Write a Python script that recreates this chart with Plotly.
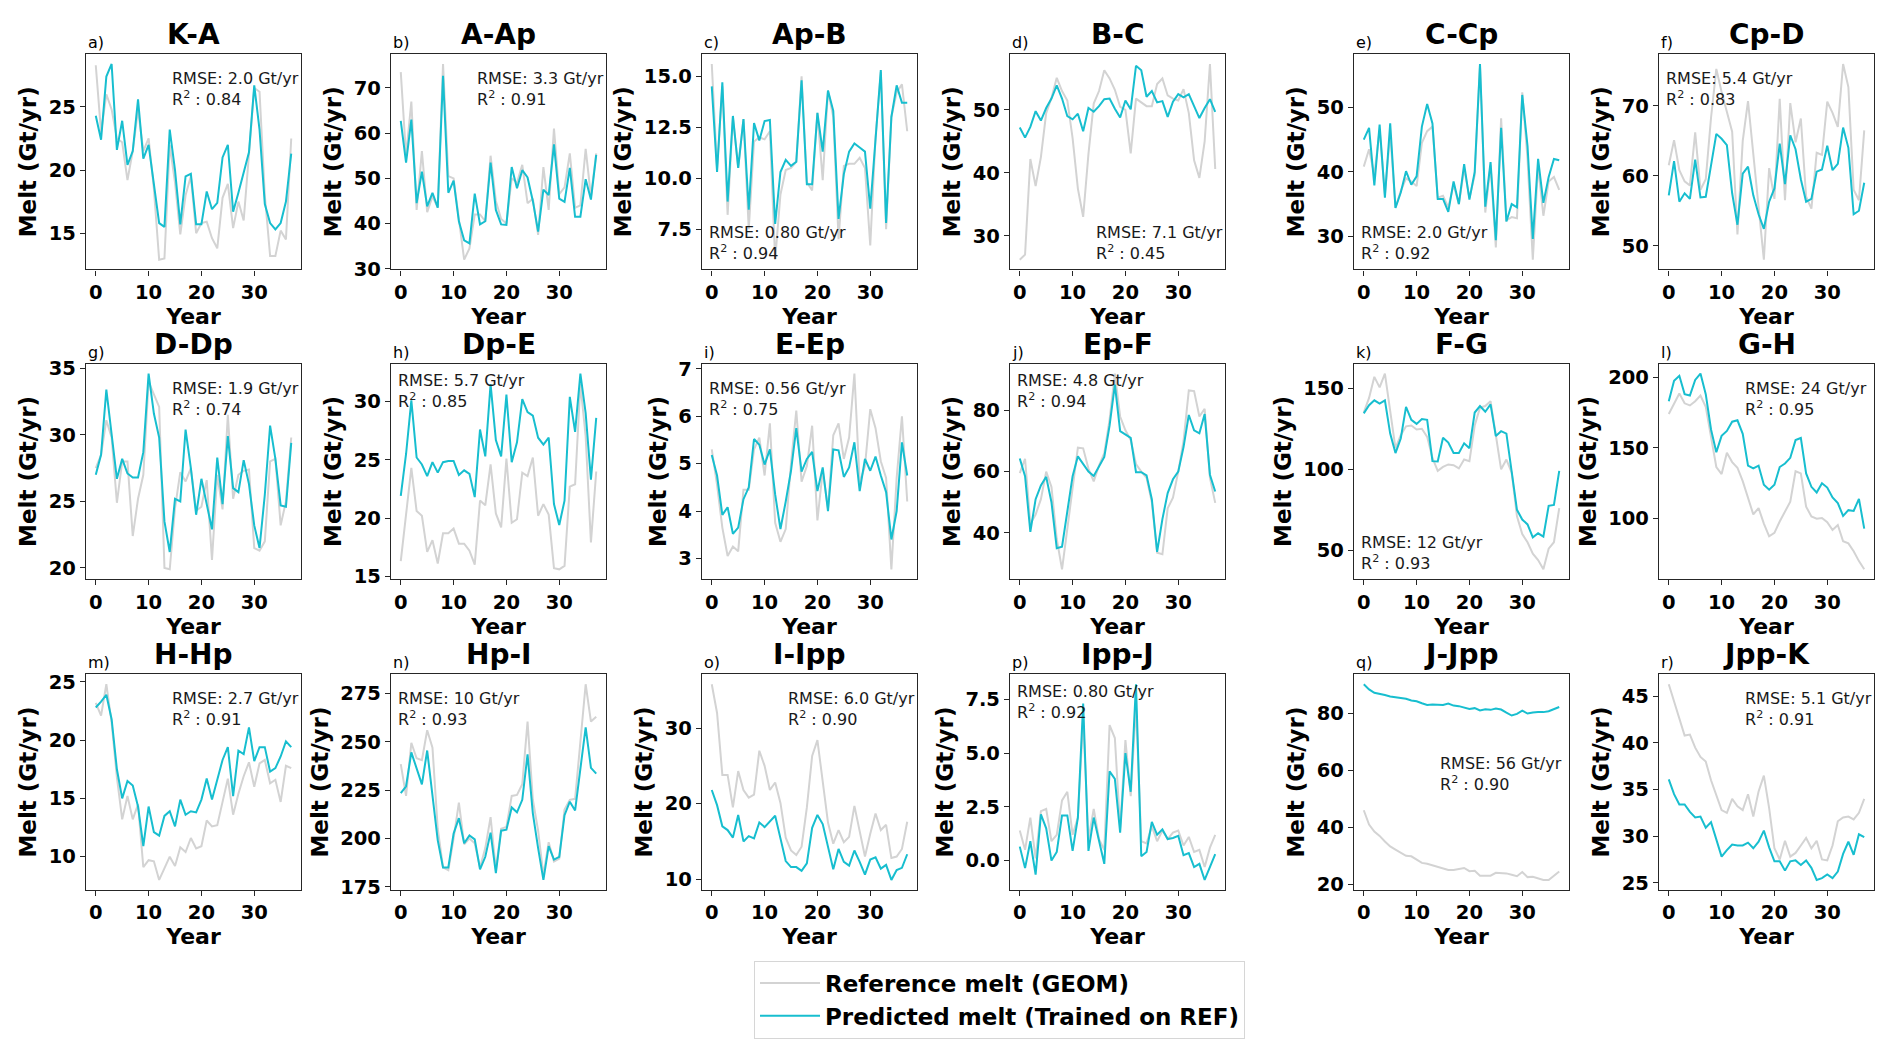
import plotly.graph_objects as go

# ---- data -------------------------------------------------------------
years = list(range(38))

names = ["K-A", "A-Ap", "Ap-B", "B-C", "C-Cp", "Cp-D",
         "D-Dp", "Dp-E", "E-Ep", "Ep-F", "F-G", "G-H",
         "H-Hp", "Hp-I", "I-Ipp", "Ipp-J", "J-Jpp", "Jpp-K"]
letters = ["a)", "b)", "c)", "d)", "e)", "f)", "g)", "h)", "i)",
           "j)", "k)", "l)", "m)", "n)", "o)", "p)", "q)", "r)"]
rmse = ["2.0", "3.3", "0.80", "7.1", "2.0", "5.4", "1.9", "5.7", "0.56",
        "4.8", "12", "24", "2.7", "10", "6.0", "0.80", "56", "5.1"]
r2 = ["0.84", "0.91", "0.94", "0.45", "0.92", "0.83", "0.74", "0.85", "0.75",
      "0.94", "0.93", "0.95", "0.91", "0.93", "0.90", "0.92", "0.90", "0.91"]

ref_KA = [28.3, 23.0, 26.0, 24.8, 22.5, 22.2, 19.2, 21.5, 24.8, 21.5, 22.5, 18.5, 12.9, 13.0, 22.0, 19.0, 14.9, 18.0, 19.5,
          15.0, 15.8, 15.9, 14.6, 13.8, 17.8, 18.9, 15.4, 17.5, 16.0, 21.5, 26.5, 26.2, 18.0, 13.2, 13.2, 15.2, 14.5, 22.5]
pred_KA = [24.3, 22.4, 27.4, 28.4, 21.6, 23.9, 20.4, 21.5, 25.6, 20.9, 22.0, 19.0, 15.8, 15.5, 23.2, 20.0, 15.7, 19.5, 19.7,
           15.7, 15.7, 18.3, 16.9, 17.4, 21.0, 22.0, 16.7, 18.2, 19.7, 21.4, 26.7, 23.2, 17.3, 15.8, 15.3, 15.8, 17.5, 21.3]

ref_AAp = [73.5, 55.0, 67.0, 43.0, 56.0, 42.5, 46.0, 43.5, 75.3, 50.5, 50.0, 41.0, 32.0, 34.5, 42.0, 42.0, 40.5, 55.0, 45.0,
           41.0, 40.0, 50.0, 49.0, 53.0, 44.5, 45.5, 37.5, 52.5, 43.0, 61.0, 46.5, 48.0, 55.5, 43.5, 44.0, 56.5, 46.0, 55.5]
pred_AAp = [62.7, 53.5, 63.0, 44.5, 51.5, 43.8, 46.8, 43.5, 72.7, 46.8, 49.5, 40.5, 36.3, 35.6, 46.6, 39.8, 40.5, 53.5, 43.0,
            39.8, 39.7, 52.5, 47.8, 51.8, 50.2, 45.0, 38.2, 47.5, 46.3, 57.5, 45.5, 44.8, 52.3, 41.5, 41.5, 49.8, 45.3, 55.2]

ref_ApB = [15.6, 10.5, 14.5, 8.2, 13.0, 10.5, 12.9, 7.5, 11.8, 12.0, 11.9, 12.3, 6.0, 9.2, 10.4, 10.5, 10.8, 15.0, 9.8,
           9.4, 13.2, 9.9, 14.3, 13.0, 7.0, 10.6, 10.7, 10.7, 11.0, 10.5, 6.7, 12.0, 15.2, 7.5, 13.0, 14.2, 14.6, 12.3]
pred_ApB = [14.5, 10.3, 14.7, 8.85, 13.05, 10.5, 12.9, 8.45, 12.7, 11.85, 12.8, 12.85, 7.75, 10.3, 10.9, 10.6, 10.8, 14.8, 9.7,
            9.7, 13.2, 11.3, 14.3, 13.3, 8.0, 10.2, 11.3, 11.7, 11.5, 11.3, 8.5, 12.0, 15.3, 7.8, 13.0, 14.55, 13.7, 13.7]

ref_BC = [26.2, 27.0, 42.2, 37.9, 42.5, 49.5, 51.9, 55.1, 53.0, 51.5, 45.5, 37.5, 33.0, 43.0, 51.0, 53.0, 56.3, 55.0, 53.2,
          50.5, 50.0, 43.1, 51.8, 51.2, 50.6, 50.6, 54.1, 55.0, 52.3, 51.8, 51.5, 53.3, 49.5, 42.0, 39.2, 45.0, 57.3, 40.6]
pred_BC = [47.2, 45.6, 47.3, 49.8, 48.3, 50.3, 51.8, 53.9, 51.8, 49.0, 48.5, 49.4, 46.6, 50.3, 49.7, 50.6, 51.7, 51.8, 50.2,
           48.8, 51.5, 50.1, 57.0, 56.3, 52.1, 53.0, 51.2, 51.4, 48.9, 51.3, 52.5, 52.0, 52.5, 50.5, 48.7, 50.3, 51.7, 49.7]

ref_CCp = [40.8, 43.5, 39.5, 46.5, 36.5, 46.0, 34.5, 37.0, 39.0, 38.5, 37.8, 44.5, 46.3, 47.0, 36.0, 36.3, 34.5, 38.0, 35.0,
           40.5, 36.0, 39.5, 56.5, 33.7, 41.0, 28.3, 48.3, 32.5, 33.0, 32.8, 52.3, 42.0, 26.4, 41.0, 33.2, 38.5, 39.2, 37.2]
pred_CCp = [45.0, 46.8, 37.9, 47.3, 36.0, 47.5, 34.4, 36.8, 40.1, 38.0, 39.3, 47.0, 50.5, 47.5, 35.8, 35.8, 33.8, 38.5, 35.0,
            41.2, 35.7, 40.0, 56.7, 34.6, 41.5, 29.4, 46.8, 32.3, 35.0, 34.5, 51.9, 44.0, 29.6, 42.0, 35.2, 39.2, 42.0, 41.8]

ref_CpD = [61.5, 65.1, 60.8, 59.2, 58.6, 66.2, 58.0, 59.5, 68.3, 75.3, 72.0, 69.3, 66.3, 51.6, 65.0, 70.7, 63.0, 55.0, 48.0,
           61.1, 56.7, 71.0, 56.5, 70.4, 64.8, 68.2, 57.0, 55.3, 63.3, 63.0, 70.6, 69.0, 67.0, 76.0, 72.7, 58.0, 56.5, 66.5]
pred_CpD = [57.2, 62.1, 56.3, 57.5, 56.7, 62.3, 56.9, 57.0, 61.5, 66.0, 65.3, 64.4, 57.5, 53.0, 60.3, 61.3, 57.2, 54.5, 52.4,
            56.3, 58.2, 64.6, 58.8, 65.8, 63.8, 59.5, 56.3, 56.7, 60.6, 60.9, 64.3, 60.8, 61.7, 66.9, 64.0, 54.5, 55.0, 59.0]

ref_DDp = [27.5, 28.5, 31.1, 29.8, 24.9, 28.0, 28.0, 22.4, 25.2, 27.0, 34.0, 33.0, 32.1, 20.0, 19.9, 24.5, 27.2, 26.5, 27.5,
           24.3, 24.6, 26.6, 20.6, 27.0, 24.4, 31.5, 25.2, 27.0, 27.3, 27.4, 21.5, 21.3, 22.0, 28.0, 28.2, 23.2, 25.0, 29.8]
pred_DDp = [27.0, 28.5, 33.4, 30.0, 26.7, 28.2, 27.1, 26.8, 26.8, 28.7, 34.6, 31.6, 29.8, 23.5, 21.2, 25.2, 25.0, 30.4, 27.5,
            24.0, 26.7, 24.8, 22.9, 28.3, 24.8, 29.9, 26.0, 25.7, 28.1, 26.3, 23.2, 21.5, 25.5, 30.7, 28.2, 24.7, 24.6, 29.4]

ref_DpE = [16.3, 20.5, 24.3, 20.6, 20.2, 17.1, 18.1, 16.1, 18.7, 18.7, 19.1, 17.8, 17.8, 17.2, 16.0, 21.5, 21.1, 24.6, 20.4,
           19.2, 25.1, 19.6, 19.9, 23.9, 23.6, 25.2, 20.2, 21.2, 20.3, 15.7, 15.6, 15.9, 22.7, 22.9, 31.5, 27.0, 17.9, 24.0]
pred_DpE = [21.9, 25.5, 30.1, 25.2, 24.6, 23.6, 24.8, 23.9, 24.8, 24.9, 24.9, 23.7, 24.1, 23.8, 21.8, 27.6, 25.3, 31.5, 26.7,
            25.3, 30.6, 24.8, 26.5, 30.2, 29.1, 28.8, 26.9, 26.3, 26.9, 21.2, 19.4, 21.5, 30.4, 27.4, 32.4, 29.0, 23.3, 28.6]

ref_EEp = [5.3, 4.55, 3.65, 3.05, 3.25, 3.15, 4.45, 4.45, 5.3, 5.55, 4.75, 5.85, 3.75, 3.35, 3.62, 5.0, 6.12, 4.62, 4.95,
           5.8, 3.8, 4.85, 4.05, 5.6, 5.85, 5.1, 5.55, 6.9, 4.6, 4.95, 6.15, 5.75, 5.05, 4.7, 2.77, 4.7, 6.0, 4.2]
pred_EEp = [5.18, 4.75, 3.92, 4.08, 3.52, 3.65, 4.25, 4.5, 5.52, 5.4, 4.98, 5.3, 4.35, 3.62, 4.2, 4.85, 5.75, 4.83, 5.1,
            5.25, 4.42, 4.92, 4.0, 5.3, 5.28, 4.72, 4.92, 5.45, 4.42, 5.1, 4.85, 5.15, 4.75, 4.4, 3.4, 4.0, 5.45, 4.75]

ref_EpF = [59.5, 64.2, 43.0, 46.0, 51.0, 60.0, 55.0, 38.0, 28.1, 41.0, 55.0, 67.8, 67.6, 61.0, 56.8, 62.0, 66.0, 77.0, 92.0,
           78.0, 73.5, 70.3, 62.5, 60.0, 58.0, 50.0, 33.5, 33.0, 48.0, 51.5, 60.0, 70.0, 86.5, 86.3, 78.0, 80.5, 58.0, 49.8]
pred_EpF = [64.3, 58.5, 40.3, 51.0, 55.5, 58.3, 50.0, 35.0, 35.5, 47.0, 58.5, 65.0, 62.3, 60.0, 58.6, 61.8, 64.8, 75.0, 88.4,
            73.2, 72.0, 71.0, 59.8, 59.8, 58.8, 51.0, 33.8, 44.5, 53.0, 57.5, 60.0, 68.0, 78.5, 73.5, 72.5, 78.8, 59.0, 53.5]

ref_FG = [135, 144, 157, 150.5, 159, 135, 113, 121, 126.5, 127, 124.5, 125, 120, 107, 99, 101.5, 103, 102.5, 100.5,
          106, 105, 127, 138, 139, 142, 121, 100, 106, 98, 71, 60, 55, 48, 44, 38.3, 51, 55, 76]
pred_FG = [134.5, 139.5, 142.5, 140.5, 142.5, 122, 110, 119, 138.5, 130.5, 128, 131, 130.5, 105, 104.8, 119.5, 116.5, 110, 110,
           116, 113, 135, 139, 135.5, 140, 120.5, 123.5, 122, 98.5, 75, 69, 66, 58, 60.5, 58.5, 77.5, 78, 99]

ref_GH = [174, 181, 188.5, 181.5, 180, 183, 187, 179, 158, 136.5, 131.5, 146.5, 140, 136, 126.5, 114, 103, 107.5, 96.5,
          87.5, 90, 98, 105, 112, 133.5, 132, 108.5, 101.5, 100, 100.5, 97.5, 92, 95.5, 84, 82.5, 77, 70, 64.2]
pred_GH = [183, 197.5, 201, 188, 187, 198, 202.5, 188, 163, 147, 158.5, 162, 168.5, 169.5, 160, 137.5, 135.5, 137.5, 124,
           120.5, 124, 136.5, 139, 143, 155.5, 157, 132, 122.5, 118.5, 125, 122, 115, 111, 102, 106, 105.5, 114, 93]

ref_HHp = [23.2, 22.1, 24.8, 21.5, 16.8, 13.2, 15.2, 13.2, 14.5, 9.1, 9.7, 9.6, 8.0, 9.0, 10.0, 9.2, 10.8, 10.4, 11.6,
           10.7, 10.9, 13.1, 12.6, 12.7, 14.6, 16.7, 13.6, 15.4, 16.9, 18.1, 16.0, 18.0, 18.3, 16.3, 16.6, 14.7, 17.8, 17.6]
pred_HHp = [22.8, 23.3, 23.9, 21.8, 17.5, 15.0, 16.5, 16.1, 14.3, 10.9, 14.3, 12.1, 11.8, 13.5, 13.9, 12.6, 14.9, 13.6, 13.9,
            13.8, 14.9, 16.7, 14.9, 16.5, 18.3, 19.4, 15.2, 19.1, 18.8, 21.1, 18.2, 19.4, 19.4, 17.3, 17.6, 18.6, 19.9, 19.4]

ref_HpI = [238.5, 222, 249.5, 241.5, 240.5, 256, 247, 205, 185, 183.5, 200, 218.5, 197, 200, 197.5, 185, 195, 211, 184,
           205, 206, 222, 222.5, 228, 260.5, 220, 204, 181, 198, 188, 189.5, 215, 220, 220.5, 250, 279.8, 260.5, 263]
pred_HpI = [223.5, 227, 244.5, 236.5, 228, 245.5, 221, 199, 185, 185, 202.5, 210.5, 197.5, 201.5, 199.5, 184, 190.5, 203, 182,
            204, 204.5, 216, 213.5, 220, 243.5, 213, 195, 178.5, 196, 189, 190.5, 212, 219, 214.5, 236, 257.5, 236.5, 233.5]

ref_IIpp = [35.8, 32.0, 23.8, 23.8, 19.5, 24.3, 21.8, 20.8, 21.2, 27.0, 25.0, 21.8, 22.8, 20.1, 15.5, 13.8, 13.2, 14.3, 19.5,
            26.3, 28.4, 23.0, 17.5, 14.7, 16.5, 14.9, 15.6, 19.7, 16.1, 13.0, 16.0, 18.7, 16.5, 17.2, 12.8, 13.0, 14.0, 17.6]
pred_IIpp = [21.8, 19.8, 17.0, 16.5, 15.5, 18.5, 15.0, 15.7, 15.4, 17.5, 16.9, 17.6, 18.4, 15.4, 12.4, 11.6, 11.6, 11.1, 12.1,
             16.8, 18.5, 17.3, 14.4, 11.3, 14.0, 12.3, 11.8, 13.8, 12.3, 10.6, 12.6, 12.9, 11.4, 11.9, 9.9, 11.2, 11.5, 13.3]

ref_IppJ = [1.4, 0.5, 2.0, 0.1, 2.3, 2.4, 0.9, 1.2, 2.8, 3.2, 1.2, 2.0, 6.6, 1.0, 2.4, 1.0, 0.5, 6.3, 5.7,
            1.5, 5.6, 3.0, 7.2, 0.9, 0.8, 1.6, 0.9, 1.4, 1.0, 1.3, 1.4, 0.7, 1.1, 0.4, 0.5, -0.3, 0.6, 1.2]
pred_IppJ = [0.65, -0.35, 0.9, -0.65, 2.15, 1.5, 0.0, 0.4, 2.1, 2.1, 0.45, 2.0, 7.3, 0.45, 2.0, 0.9, -0.15, 4.15, 3.8,
             1.3, 5.0, 3.2, 8.2, 0.2, 0.4, 1.8, 1.2, 1.45, 1.0, 1.05, 1.15, 0.25, 0.35, -0.3, -0.15, -0.9, -0.3, 0.3]

ref_JJpp = [46.0, 41.0, 38.5, 37.0, 35.0, 33.3, 32.2, 31.2, 30.0, 29.8, 28.5, 27.5, 27.2, 26.7, 26.2, 25.6, 25.0, 25.0, 25.3,
            25.7, 24.6, 24.7, 23.0, 23.0, 23.0, 24.0, 24.0, 23.8, 23.3, 22.8, 24.3, 22.5, 22.6, 22.0, 21.5, 21.5, 23.0, 24.5]
pred_JJpp = [90.3, 88.5, 87.3, 87.0, 86.5, 86.0, 85.8, 85.5, 85.2, 84.6, 84.3, 83.6, 83.0, 83.2, 83.0, 83.0, 83.5, 82.8, 82.6,
             82.0, 81.6, 81.9, 81.1, 81.5, 81.3, 81.8, 81.4, 80.3, 79.3, 79.9, 81.0, 80.0, 80.4, 80.5, 80.5, 80.8, 81.6, 82.3]

ref_JppK = [46.3, 44.5, 42.5, 40.8, 40.9, 39.5, 38.5, 38.0, 36.0, 34.3, 32.8, 32.5, 34.0, 33.2, 32.8, 34.5, 32.1, 34.8, 36.5,
            33.0, 28.7, 27.5, 29.5, 27.8, 28.2, 29.0, 29.8, 28.7, 29.5, 27.5, 27.4, 29.0, 31.6, 32.0, 32.1, 31.8, 32.5, 34.0]
pred_JppK = [36.1, 34.5, 33.4, 33.4, 32.6, 32.0, 32.1, 30.9, 31.5, 29.7, 27.8, 28.5, 29.1, 29.0, 29.0, 29.3, 28.7, 29.4, 30.6,
             28.8, 27.3, 27.3, 26.3, 27.3, 27.4, 26.9, 27.4, 26.6, 25.3, 25.5, 25.9, 25.5, 26.2, 28.1, 29.4, 28.0, 30.2, 29.9]

refs = [ref_KA, ref_AAp, ref_ApB, ref_BC, ref_CCp, ref_CpD, ref_DDp, ref_DpE, ref_EEp,
        ref_EpF, ref_FG, ref_GH, ref_HHp, ref_HpI, ref_IIpp, ref_IppJ, ref_JJpp, ref_JppK]
preds = [pred_KA, pred_AAp, pred_ApB, pred_BC, pred_CCp, pred_CpD, pred_DDp, pred_DpE, pred_EEp,
         pred_EpF, pred_FG, pred_GH, pred_HHp, pred_HpI, pred_IIpp, pred_IppJ, pred_JJpp, pred_JppK]

# ---- layout / style ---------------------------------------------------
W, H = 1892, 1059
col_left = [86, 391, 702, 1010, 1354, 1659]
row_top = [48, 363, 679]
box_w, box_h = 215, 219

y_dtick = [5, 10, 2.5, 10, 10, 10, 5, 5, 1, 20, 50, 50, 5, 25, 10, 2.5, 20, 5]
# where the RMSE / R2 box sits inside each panel: (x, y, yanchor)
TR, TL, BL, BR = (0.39, 0.94, "top"), (0.025, 0.94, "top"), (0.025, 0.02, "bottom"), (0.39, 0.02, "bottom")
TL2 = (0.025, 0.975, "top")
text_pos = [TR, TR, BL, BR, BL, TL,
            TR, TL2, TL, TL2, BL, TR,
            TR, TL, TR, TL2, (0.39, 0.64, "top"), TR]

REF_COLOR = "#d3d3d3"
PRED_COLOR = "#17becf"
FONT = "DejaVu Sans"

fig = go.Figure()
annotations = []
layout = {}

for i in range(18):
    r, c = divmod(i, 6)
    n = i + 1
    xa = "x" if n == 1 else f"x{n}"
    ya = "y" if n == 1 else f"y{n}"

    fig.add_trace(go.Scatter(x=years, y=refs[i], mode="lines", xaxis=xa, yaxis=ya,
                             line=dict(color=REF_COLOR, width=2),
                             name="Reference melt (GEOM)", showlegend=(i == 0)))
    fig.add_trace(go.Scatter(x=years, y=preds[i], mode="lines", xaxis=xa, yaxis=ya,
                             line=dict(color=PRED_COLOR, width=2),
                             name="Predicted melt (Trained on REF)", showlegend=(i == 0)))

    lo = min(min(refs[i]), min(preds[i]))
    hi = max(max(refs[i]), max(preds[i]))
    pad = 0.05 * (hi - lo)

    x0 = col_left[c] / W
    y1 = 1 - row_top[r] / H
    common = dict(showline=True, mirror=True, linecolor="#262626", linewidth=1.3,
                  ticks="outside", ticklen=5, tickwidth=1.3, tickcolor="#262626",
                  showgrid=False, zeroline=False,
                  tickfont=dict(family=FONT, size=19.5, color="black", weight="bold"))
    xaxis = dict(domain=[x0, x0 + box_w / W], anchor=ya, range=[-1.85, 38.85],
                 tickvals=[0, 10, 20, 30],
                 title=dict(text="Year", font=dict(family=FONT, size=22, color="black", weight="bold"),
                            standoff=3),
                 **common)
    yaxis = dict(domain=[y1 - box_h / H, y1], anchor=xa, range=[lo - pad, hi + pad],
                 dtick=y_dtick[i],
                 title=dict(text="Melt (Gt/yr)", font=dict(family=FONT, size=23, color="black", weight="bold"),
                            standoff=5),
                 **common)
    if y_dtick[i] == 2.5:
        yaxis["tickformat"] = ".1f"
    layout["xaxis" if n == 1 else f"xaxis{n}"] = xaxis
    layout["yaxis" if n == 1 else f"yaxis{n}"] = yaxis

    xd, yd = f"{xa} domain", f"{ya} domain"
    annotations.append(dict(xref=xd, yref=yd, x=0.5, y=1.0, xanchor="center", yanchor="bottom",
                            yshift=1, showarrow=False, text=f"<b>{names[i]}</b>",
                            font=dict(family=FONT, size=28, color="black")))
    annotations.append(dict(xref=xd, yref=yd, x=0.0, y=1.0, xanchor="left", yanchor="bottom",
                            showarrow=False, text=letters[i],
                            font=dict(family=FONT, size=16, color="black")))
    tx, ty, tya = text_pos[i]
    annotations.append(dict(xref=xd, yref=yd, x=tx, y=ty, xanchor="left", yanchor=tya,
                            showarrow=False, align="left",
                            text=f"RMSE: {rmse[i]} Gt/yr<br>R<sup>2</sup> : {r2[i]}",
                            font=dict(family=FONT, size=16, color="#1a1a1a")))

fig.update_layout(
    width=W, height=H,
    margin=dict(l=0, r=0, t=0, b=0),
    paper_bgcolor="white", plot_bgcolor="white",
    font=dict(family=FONT, color="black"),
    annotations=annotations,
    legend=dict(x=754 / W, y=1 - 970 / H, xanchor="left", yanchor="top",
                bgcolor="white", bordercolor="#d6d6d6", borderwidth=1,
                font=dict(family=FONT, size=23, color="black", weight="bold"),
                itemwidth=60),
    **layout,
)

fig.write_html("out.html", config={"displayModeBar": False},
               post_script="document.body.style.margin='0';")
